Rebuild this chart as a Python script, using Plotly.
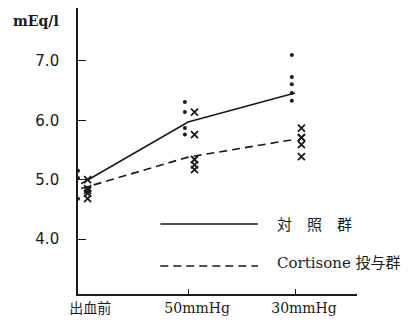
import plotly.graph_objects as go

# Stages and group means (mEq/l)
stages = ["出血前", "50mmHg", "30mmHg"]
control_mean = [4.93, 5.97, 6.46]
cortisone_mean = [4.85, 5.38, 5.68]

# Individual measurements per stage
control_pts = [
    [5.15, 5.03, 4.68],
    [6.31, 6.14, 5.87, 5.76],
    [7.10, 6.73, 6.61, 6.46, 6.33],
]
cortisone_pts = [
    [5.00, 4.85, 4.77, 4.68, 4.82],
    [6.14, 5.76, 5.34, 5.25, 5.17],
    [5.87, 5.71, 5.71, 5.59, 5.39],
]

y_ticks = [4.0, 5.0, 6.0, 7.0]
legend_labels = ["対　照　群", "Cortisone 投与群"]

INK = "#1a1a1a"
idx = list(range(len(stages)))
dot_off, cross_off = -0.03, 0.06

fig = go.Figure()

fig.add_trace(go.Scatter(x=idx, y=control_mean, mode="lines",
                         line=dict(color=INK, width=1.6), showlegend=False))
fig.add_trace(go.Scatter(x=idx, y=cortisone_mean, mode="lines",
                         line=dict(color=INK, width=1.6, dash="8px,5px"), showlegend=False))

cx, cy = [], []
for i, vals in enumerate(control_pts):
    cx += [i + dot_off] * len(vals)
    cy += vals
fig.add_trace(go.Scatter(x=cx, y=cy, mode="markers",
                         marker=dict(symbol="circle", size=4, color=INK), showlegend=False))

kx, ky = [], []
for i, vals in enumerate(cortisone_pts):
    kx += [i + cross_off] * len(vals)
    ky += vals
fig.add_trace(go.Scatter(x=kx, y=ky, mode="markers",
                         marker=dict(symbol="x-thin", size=7, line=dict(color=INK, width=1.8)),
                         showlegend=False))

# Hand-drawn legend at the lower right of the plot area
leg_y = [0.245, 0.098]
for ly, dash in zip(leg_y, ["solid", "8px,5px"]):
    fig.add_shape(type="line", xref="paper", yref="paper",
                  x0=0.295, x1=0.645, y0=ly, y1=ly,
                  line=dict(color=INK, width=1.6, dash=dash))
for ly, txt in zip([0.24, 0.11], legend_labels):
    fig.add_annotation(xref="paper", yref="paper", x=0.705, y=ly, text=txt,
                       showarrow=False, xanchor="left", yanchor="middle",
                       font=dict(family="DejaVu Serif, Noto Sans CJK JP", size=15, color=INK))

fig.add_annotation(xref="paper", yref="paper", x=-0.06, y=0.955, text="<b>mEq/l</b>",
                   showarrow=False, xanchor="right", yanchor="middle",
                   font=dict(family="DejaVu Serif", size=14, color=INK))

fig.update_layout(
    width=414, height=324,
    margin=dict(l=78, r=57, t=8, b=30),
    paper_bgcolor="white", plot_bgcolor="white",
    xaxis=dict(range=[-0.03, 2.58], tickvals=idx, ticktext=stages,
               showgrid=False, zeroline=False, showline=True,
               linecolor=INK, linewidth=1.6, ticks="", ticklabelshift=9,
               tickfont=dict(family="DejaVu Serif, Noto Sans CJK JP", size=14, color=INK)),
    xaxis2=dict(range=[-0.03, 2.58], overlaying="x", matches="x", side="bottom",
                tickvals=idx[1:], showticklabels=False, showgrid=False, zeroline=False,
                ticks="inside", ticklen=5, tickwidth=1.4, tickcolor=INK),
    yaxis=dict(range=[3.073, 7.893], tickvals=y_ticks,
               ticktext=[f"{v:.1f}" for v in y_ticks],
               showgrid=False, zeroline=False, showline=True,
               linecolor=INK, linewidth=1.6, ticks="inside", ticklen=8,
               tickwidth=1.4, tickcolor=INK, ticklabelstandoff=14,
               tickfont=dict(family="DejaVu Sans", size=15, color=INK)),
)
# Empty trace so the second x-axis (tick marks only) is drawn
fig.add_trace(go.Scatter(x=[None], y=[None], xaxis="x2", showlegend=False))

fig.write_html("out.html")
